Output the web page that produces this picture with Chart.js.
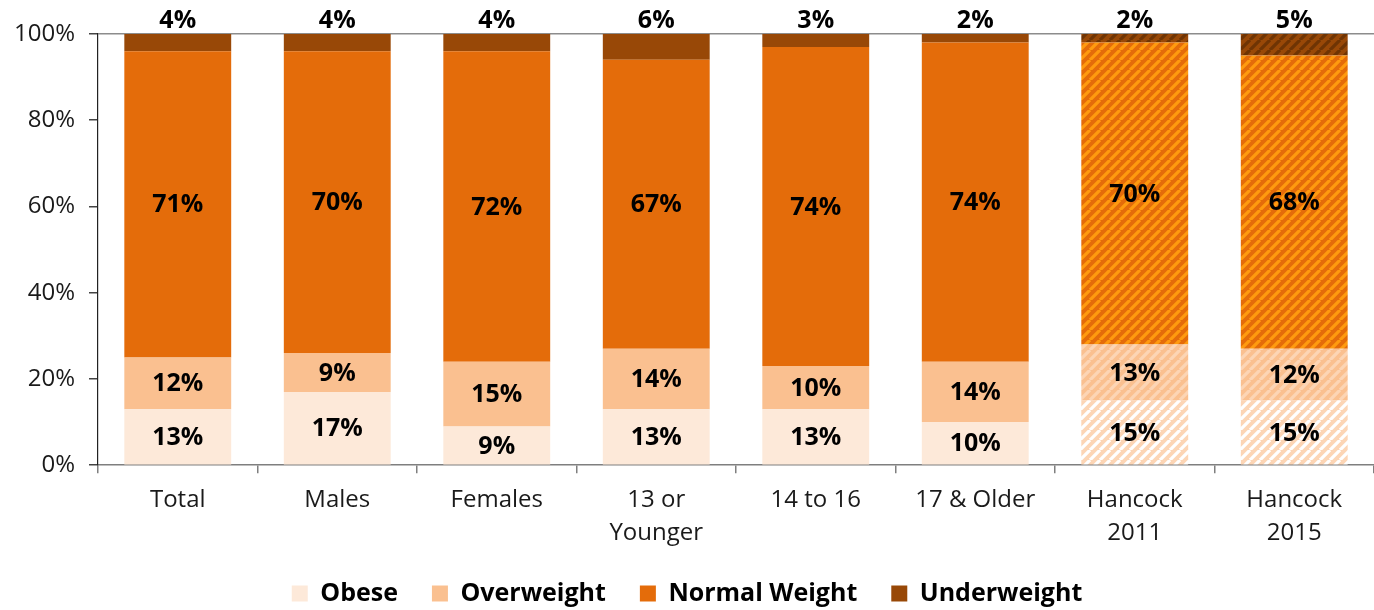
<!DOCTYPE html>
<html>
<head>
<meta charset="utf-8">
<script src="https://cdn.jsdelivr.net/npm/chart.js@4.4.1/dist/chart.umd.min.js"></script>
<style>
  html, body { margin: 0; padding: 0; background: #fff; }
  #wrap { width: 1374px; height: 610px; position: relative; }
</style>
</head>
<body>
<div id="wrap"><canvas id="weightChart"></canvas></div>
<script>
// chart data
const categories = ["Total", "Males", "Females", ["13 or", "Younger"], "14 to 16", "17 & Older", ["Hancock", "2011"], ["Hancock", "2015"]];
const obese = [13, 17, 9, 13, 13, 10, 15, 15];
const overweight = [12, 9, 15, 14, 10, 14, 13, 12];
const normalWeight = [71, 70, 72, 67, 74, 74, 70, 68];
const underweight = [4, 4, 4, 6, 3, 2, 2, 5];
const yTicks = [0, 20, 40, 60, 80, 100];

const FONT = "'Open Sans', 'Noto Sans', sans-serif";

// diagonal stripe pattern for the Hancock bars
function stripes(base, line) {
    const size = 10;
    const c = document.createElement("canvas");
    c.width = size;
    c.height = size;
    const g = c.getContext("2d");
    g.fillStyle = base;
    g.fillRect(0, 0, size, size);
    g.strokeStyle = line;
    g.lineWidth = 3.2;
    g.beginPath();
    for (let k = -1; k <= 1; k++) {
        g.moveTo(k * size, size);
        g.lineTo(k * size + size, 0);
    }
    g.stroke();
    return g.createPattern(c, "repeat");
}

// plain colour for the first 6 bars, striped for the last 2
function fills(plain, base, line) {
    const p = stripes(base, line);
    return categories.map((c, i) => (i >= 6 ? p : plain));
}

// draws the percentage labels on each segment
const segmentLabels = {
    id: "segmentLabels",
    afterDatasetsDraw(chart) {
        const ctx = chart.ctx;
        ctx.save();
        ctx.font = "bold 25px " + FONT;
        ctx.fillStyle = "#000";
        ctx.textAlign = "center";
        ctx.textBaseline = "middle";
        chart.data.datasets.forEach((ds, di) => {
            const meta = chart.getDatasetMeta(di);
            meta.data.forEach((bar, i) => {
                const p = bar.getProps(["x", "y", "base"], true);
                let y = (p.y + p.base) / 2;
                if (di === 3) y = chart.chartArea.top - 14;
                ctx.fillText(ds.data[i] + "%", p.x, y + 1);
            });
        });
        ctx.restore();
    }
};

const chart = new Chart(document.getElementById("weightChart"), {
    type: "bar",
    data: {
        labels: categories,
        datasets: [
            { label: "Obese", data: obese, backgroundColor: fills("#FDE9D9", "#FCD5B5", "#FFFFFF") },
            { label: "Overweight", data: overweight, backgroundColor: fills("#FAC090", "#FAC090", "#FCD5B5") },
            { label: "Normal Weight", data: normalWeight, backgroundColor: fills("#E46C0A", "#E46C0A", "#FF9A0F") },
            { label: "Underweight", data: underweight, backgroundColor: fills("#984807", "#984807", "#6E3404") }
        ]
    },
    options: {
        responsive: true,
        maintainAspectRatio: false,
        animation: false,
        barPercentage: 0.67,
        categoryPercentage: 1,
        layout: { padding: { top: 34, right: 0, left: 0, bottom: -6 } },
        plugins: {
            tooltip: { enabled: false },
            legend: {
                position: "bottom",
                labels: {
                    boxWidth: 16,
                    boxHeight: 16,
                    padding: 34,
                    color: "#000",
                    font: { family: FONT, size: 25, weight: "bold" }
                }
            }
        },
        scales: {
            x: {
                stacked: true,
                afterFit: (scale) => { scale.height -= 13; },
                border: { color: "#7f7f7f", width: 1.5 },
                grid: { drawOnChartArea: false, tickLength: 8, color: "#7f7f7f", lineWidth: 1.5 },
                ticks: { color: "#1a1a1a", padding: 11, font: { family: FONT, size: 24, lineHeight: 1.35 }, maxRotation: 0 }
            },
            y: {
                stacked: true,
                min: 0,
                max: 100,
                afterBuildTicks: (axis) => { axis.ticks = yTicks.map((v) => ({ value: v })); },
                border: { color: "#222", width: 1.2 },
                grid: {
                    color: (c) => (c.tick && c.tick.value === 100 ? "#8c8c8c" : "transparent"),
                    lineWidth: 1.5,
                    tickLength: 9,
                    tickColor: "#444"
                },
                ticks: {
                    color: "#1a1a1a",
                    padding: 14,
                    font: { family: FONT, size: 24 },
                    callback: (v) => v + "%"
                }
            }
        }
    },
    plugins: [segmentLabels]
});
</script>
</body>
</html>
